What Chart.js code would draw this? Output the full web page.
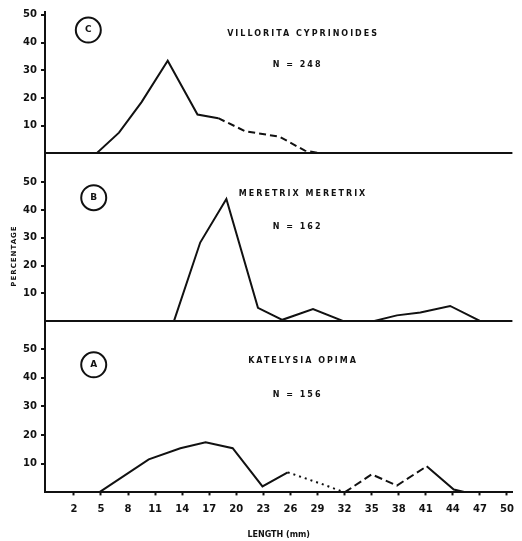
<!DOCTYPE html>
<html>
<head>
<meta charset="utf-8">
<script src="https://cdn.jsdelivr.net/npm/chart.js@4"></script>
<style>
  html, body { margin: 0; padding: 0; background: #fff; }
  #wrap { width: 522px; height: 541px; }
</style>
</head>
<body>
<div id="wrap"><canvas id="chart-length"></canvas></div>
<script>
// length-frequency of three clams, one stacked panel per species
const lengthTicks = [2, 5, 8, 11, 14, 17, 20, 23, 26, 29, 32, 35, 38, 41, 44, 47, 50];
const percentTicks = [0, 10, 20, 30, 40, 50];

const villoritaLength = [4.5, 7, 9.5, 12.4, 15.7, 18, 21, 24.8, 27.6, 29.5];
const villoritaPct = [0, 7.5, 18.5, 33.4, 14, 12.7, 8, 6, 1, 0];

const meretrixLength = [13.1, 16, 18.9, 22.4, 25.1, 28.5, 31.8, 35.3, 37.8, 40.4, 43.7, 47];
const meretrixPct = [0, 28.3, 44, 4.7, 0.4, 4.3, 0, 0, 2, 3, 5.4, 0];

const katelysiaLength = [4.8, 10.3, 13.8, 16.6, 19.6, 22.9, 25.7, 29.6, 32, 35, 37.8, 41.1, 44.1, 45.5];
const katelysiaPct = [0, 11.5, 15.4, 17.5, 15.4, 2.1, 7, 2.8, 0, 6.3, 2.4, 9.1, 1, 0];

const species = ["VILLORITA CYPRINOIDES", "MERETRIX MERETRIX", "KATELYSIA OPIMA"];
const panelLetters = ["C", "B", "A"];
const sampleSizes = [248, 162, 156];

const ink = "#111";
const boldFont = { family: "DejaVu Sans", size: 10, weight: "bold" };

function toPoints(xs, ys) {
    return xs.map((x, i) => ({ x: x, y: ys[i] }));
}

function percentAxis(weight, max) {
    return {
        type: "linear",
        position: "left",
        stack: "pct",
        stackWeight: weight,
        min: 0,
        max: max,
        afterBuildTicks: (scale) => {
            scale.ticks = percentTicks.map((v) => ({ value: v }));
        },
        afterFit: (scale) => {
            scale.width = 45;
        },
        ticks: {
            color: ink,
            font: boldFont,
            padding: 4,
            callback: (v) => (v === 0 ? "" : v),
        },
        grid: {
            color: (c) => (c.tick && c.tick.value === 0 ? ink : "transparent"),
            lineWidth: 2,
            tickLength: 4,
            tickWidth: 2,
            tickColor: (c) => (c.tick && c.tick.value === 0 ? "transparent" : ink),
        },
        border: { color: ink, width: 2 },
    };
}

// dashed stretches of the hand-drawn curves
const villoritaDash = (ctx) => (ctx.p0.parsed.x >= 18 ? [7, 4] : undefined);
const katelysiaDash = (ctx) => {
    const x = ctx.p0.parsed.x;
    if (x >= 25 && x < 31) return [2, 4];
    if (x >= 31 && x < 38) return [8, 4];
    return undefined;
};

const panelText = {
    id: "panelText",
    afterDraw(chart) {
        const { ctx, scales } = chart;
        const axes = [scales.yC, scales.yB, scales.yA];
        const x = scales.x;
        ctx.save();
        ctx.fillStyle = ink;
        ctx.strokeStyle = ink;
        ctx.textAlign = "center";
        ctx.textBaseline = "middle";
        axes.forEach((ax, i) => {
            // circled panel letter
            const cx = x.getPixelForValue(i === 0 ? 3.6 : 4.2);
            const cy = ax.getPixelForValue(44.5);
            ctx.lineWidth = 2;
            ctx.beginPath();
            ctx.arc(cx, cy, 12.5, 0, Math.PI * 2);
            ctx.stroke();
            ctx.font = "bold 9px 'DejaVu Sans'";
            ctx.letterSpacing = "0px";
            ctx.fillText(panelLetters[i], cx, cy);

            ctx.font = "bold 8px 'DejaVu Sans'";
            ctx.letterSpacing = "2px";
            ctx.fillText(species[i], x.getPixelForValue(27.4), ax.getPixelForValue(i === 0 ? 43 : 46));
            ctx.fillText("N = " + sampleSizes[i], x.getPixelForValue(26.8), ax.getPixelForValue(i === 0 ? 32 : 34));
        });
        // vertical axis caption
        ctx.translate(14, 256);
        ctx.rotate(-Math.PI / 2);
        ctx.font = "bold 7px 'DejaVu Sans'";
        ctx.letterSpacing = "1px";
        ctx.fillText("PERCENTAGE", 0, 0);
        ctx.restore();
    },
};

const config = {
    type: "line",
    data: {
        datasets: [
            {
                label: species[2],
                data: toPoints(katelysiaLength, katelysiaPct),
                yAxisID: "yA",
                segment: { borderDash: katelysiaDash },
            },
            {
                label: species[1],
                data: toPoints(meretrixLength, meretrixPct),
                yAxisID: "yB",
            },
            {
                label: species[0],
                data: toPoints(villoritaLength, villoritaPct),
                yAxisID: "yC",
                segment: { borderDash: villoritaDash },
            },
        ],
    },
    options: {
        responsive: true,
        maintainAspectRatio: false,
        animation: false,
        layout: { padding: { top: 12, right: 4, left: 0, bottom: 1 } },
        elements: {
            line: { borderColor: ink, borderWidth: 2, tension: 0 },
            point: { radius: 0 },
        },
        plugins: {
            legend: { display: false },
            tooltip: { enabled: false },
        },
        scales: {
            x: {
                type: "linear",
                min: -1.2,
                max: 50.6,
                afterBuildTicks: (scale) => {
                    scale.ticks = lengthTicks.map((v) => ({ value: v }));
                },
                ticks: { color: ink, font: boldFont, padding: 8, maxRotation: 0, autoSkip: false },
                grid: { drawOnChartArea: false, tickLength: 3, tickWidth: 2, tickColor: ink },
                border: { color: ink, width: 2 },
                title: {
                    display: true,
                    text: "LENGTH (mm)",
                    color: ink,
                    font: { family: "DejaVu Sans", size: 8, weight: "bold" },
                    padding: { top: 7, bottom: 0 },
                },
            },
            yA: percentAxis(171, 59.8),
            yB: percentAxis(167, 60.5),
            yC: percentAxis(141, 51),
        },
    },
    plugins: [panelText],
};

new Chart(document.getElementById("chart-length"), config);
</script>
</body>
</html>
